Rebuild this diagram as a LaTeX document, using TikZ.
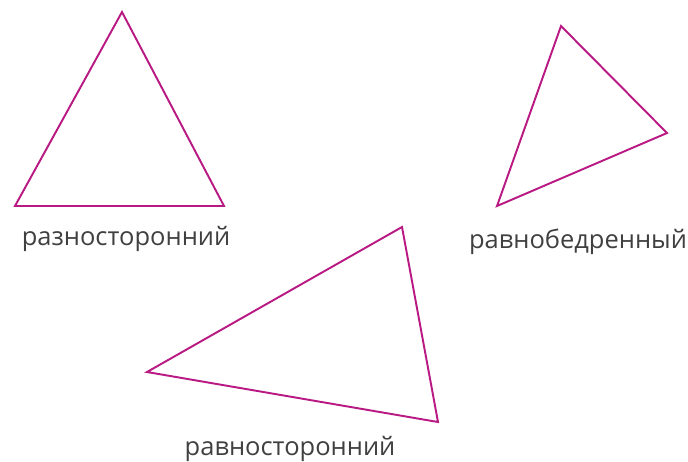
\documentclass[tikz,border=0pt]{standalone}
\usepackage{fontspec}
\setmainfont{Open Sans}
\definecolor{trimag}{RGB}{185,25,130}
\tikzset{
  tri/.style={draw=trimag, line width=1.1pt, line join=miter},
  lbl/.style={anchor=base, font=\fontsize{14.5}{17}\selectfont, text=black!75}
}
\begin{document}
\begin{tikzpicture}[x=0.02cm, y=-0.02cm]
\useasboundingbox (0,0) rectangle (688,461);

% scalene
\coordinate (a1) at (122,12);
\coordinate (a2) at (15,206);
\coordinate (a3) at (224,206);
\draw[tri] (a1) -- (a2) -- (a3) -- cycle;
\node[lbl] (la) at (126,245) {разносторонний};

% isosceles
\coordinate (b1) at (561,26);
\coordinate (b2) at (667,133);
\coordinate (b3) at (497,206);
\draw[tri] (b1) -- (b2) -- (b3) -- cycle;
\node[lbl, inner xsep=1pt] (lb) at (578,248) {равнобедренный};

% equilateral
\coordinate (c1) at (402,227);
\coordinate (c2) at (438,422);
\coordinate (c3) at (147,372);
\draw[tri] (c1) -- (c2) -- (c3) -- cycle;
\node[lbl] (lc) at (290,455) {равносторонний};
\end{tikzpicture}
\end{document}
